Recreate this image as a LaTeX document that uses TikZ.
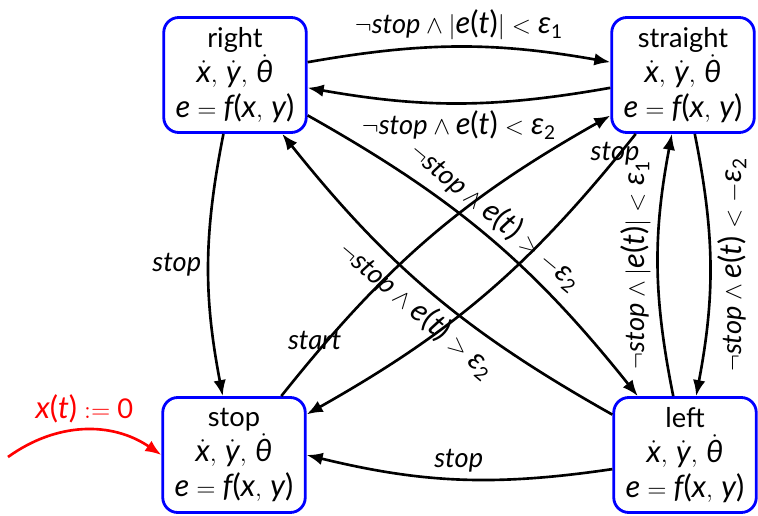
\documentclass[tikz,border=0pt]{standalone}
\usepackage{amsmath}
\usepackage{fontspec}
\setmainfont{Lato}
\usetikzlibrary{arrows.meta}

\newcommand{\mvar}[1]{\text{\itshape #1}}
\newcommand{\mlet}[1]{\text{\fontsize{17.5}{20}\selectfont\itshape #1}}
\newcommand{\mpar}[1]{\text{\fontsize{17.5}{20}\selectfont(}#1\text{\fontsize{17.5}{20}\selectfont)}}
\newcommand{\dotvars}{$\dot{\mlet{x}},\,\dot{\mlet{y}},\,\dot{\mlet{θ}}$}
\newcommand{\efxy}{$\mlet{e}=\mlet{f}\mpar{\mlet{x},\,\mlet{y}}$}
\newcommand{\nstop}{\neg\mvar{stop}\wedge}

\begin{document}
\begin{tikzpicture}[font=\fontsize{15.5}{20}\selectfont,
    state/.style={draw=blue,line width=1.6pt,rounded corners=0.3cm,align=center,
        minimum width=2.85cm,minimum height=2.3cm,inner sep=2pt},
    trans/.style={-{Latex[length=3.2mm,width=2.5mm]},line width=1.5pt}]
    \useasboundingbox (0,0) rectangle (15.16,10.3);
    % states
    \node[state] (right) at (4.70,8.80) {right\\ \dotvars\\ \efxy};
    \node[state] (straight) at (13.66,8.80) {straight\\ \dotvars\\ \efxy};
    \node[state] (stop) at (4.68,1.20) {stop\\ \dotvars\\ \efxy};
    \node[state] (left) at (13.70,1.20) {left\\ \dotvars\\ \efxy};
    % initial state
    \coordinate (init) at (0.16,1.16);
    \draw[trans,red] (init) to[bend left=35]
        node[above] {$\mlet{x}\mpar{\mlet{t}}\mathrel{:=}\text{0}$} (stop.west);
    % right <-> straight
    \draw[trans] (right) to[bend left=10]
        node[above] {$\nstop|\mlet{e}\mpar{\mlet{t}}|<\mlet{ε}_{\text{1}}$} (straight);
    \draw[trans] (straight) to[bend left=10]
        node[below] {$\nstop\mlet{e}\mpar{\mlet{t}}<\mlet{ε}_{\text{2}}$} (right);
    % diagonals
    \draw[trans] (right) to[bend left=11]
        node[pos=0.48,sloped,above] {$\nstop\mlet{e}\mpar{\mlet{t}}>-\mlet{ε}_{\text{2}}$} (left);
    \draw[trans] (left) to[bend left=11]
        node[pos=0.5,sloped,below] {$\nstop\mlet{e}\mpar{\mlet{t}}>\mlet{ε}_{\text{2}}$} (right);
    \draw[trans] (stop) to[bend left=11]
        node[pos=0.15,xshift=-0.25cm] {$\mvar{start}$} (straight);
    \draw[trans] (straight) to[bend left=11]
        node[pos=0.05,xshift=-0.1cm] {$\mvar{stop}$} (stop);
    % vertical ones
    \draw[trans] (right) to[bend right=11] node[left] {$\mvar{stop}$} (stop);
    \draw[trans] (left) to[bend left=11]
        node[rotate=90,anchor=south] {$\nstop|\mlet{e}\mpar{\mlet{t}}|<\mlet{ε}_{\text{1}}$} (straight);
    \draw[trans] (straight) to[bend left=11]
        node[rotate=90,anchor=north] {$\nstop\mlet{e}\mpar{\mlet{t}}<-\mlet{ε}_{\text{2}}$} (left);
    % left -> stop
    \draw[trans] (left) to[bend left=11] node[above] {$\mvar{stop}$} (stop.east);
\end{tikzpicture}
\end{document}
